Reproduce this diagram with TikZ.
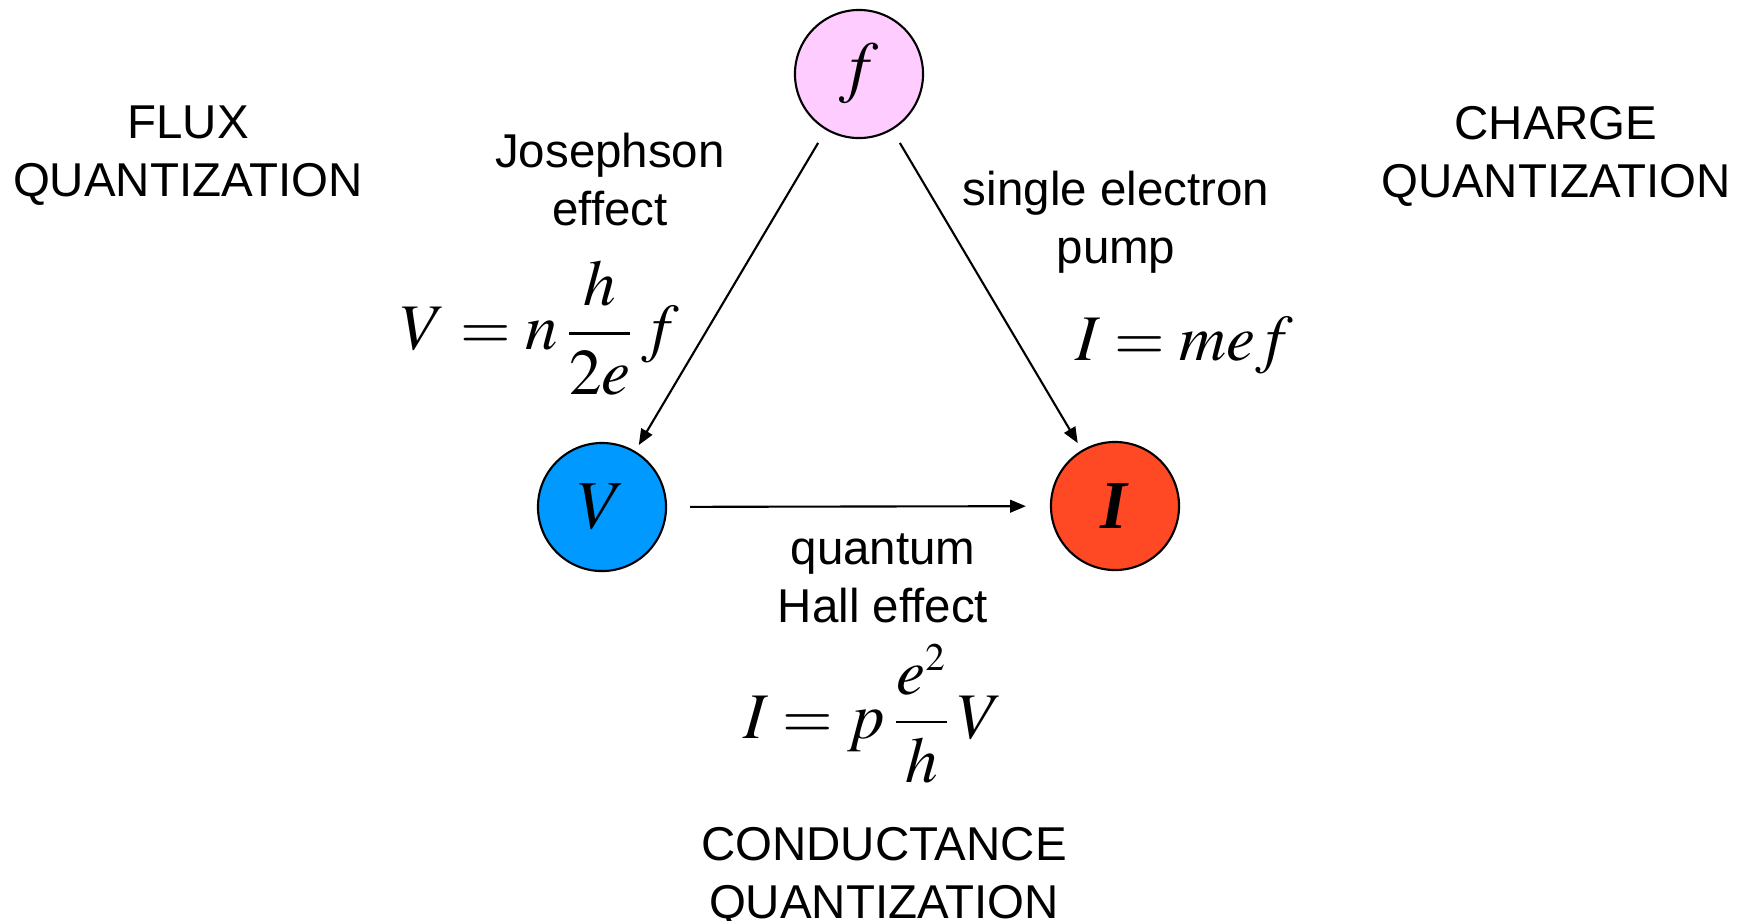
\documentclass[tikz,border=0pt]{standalone}
\usepackage{mathptmx}
\usepackage{fontspec}
\setmainfont{Liberation Serif}
\setsansfont{Liberation Sans}
\usetikzlibrary{arrows.meta}
\definecolor{fpink}{RGB}{255,204,255}
\definecolor{vblue}{RGB}{0,153,255}
\definecolor{ired}{RGB}{255,72,36}
\tikzset{
  qnode/.style={circle, draw=black, line width=0.6pt, minimum size=1.28cm, inner sep=0pt, font=\fontsize{19.5}{23}\selectfont},
  qlabel/.style={font=\sffamily\fontsize{13.5}{16.5}\selectfont, align=center, inner sep=0pt},
  qeqn/.style={font=\fontsize{18.5}{22}\selectfont, inner sep=0pt},
  conn/.style={line width=0.6pt, -{Triangle[length=4.5pt,width=3.6pt]}}
}

\begin{document}
\begin{tikzpicture}[x=0.01cm, y=-0.01cm]
        \useasboundingbox (0,0) rectangle (1754,920);

        % Los tres nodos del triangulo
        \node[qnode, fill=fpink] (freq) at (859,74) {$f$};
        \node[qnode, fill=vblue] (volt) at (602,507) {$V$};
        \node[qnode, fill=ired] (curr) at (1115,506) {\textbf{\textit{I}}};

        % --- CONEXIONES ---
        \draw[conn, shorten <=0.15cm, shorten >=0.07cm] (freq) -- (volt);
        \draw[conn, shorten <=0.15cm, shorten >=0.08cm] (freq) -- (curr);
        \draw[conn, shorten <=0.23cm, shorten >=0.24cm] (volt) -- (curr);

        % Etiquetas de los efectos
        \node[qlabel] (jos) at (610,180) {Josephson\\effect};
        \node[qlabel] (sep) at (1116,222) {single electron\\pump};
        \node[qlabel] (qhe) at (883,578) {quantum\\Hall effect};

        % Ecuaciones
        \node[qeqn] (eqjos) at (540,328) {$\displaystyle V = n\,\frac{h}{2e}\,f$};
        \node[qeqn, anchor=base] (eqsep) at (1184,360) {$I = mef$};
        \node[qeqn] (eqqhe) at (873,714) {$\displaystyle I = p\,\frac{e^{\scriptscriptstyle 2}}{h}\,V$};

        % Tipos de cuantizacion
        \node[qlabel] (flux) at (188,156) {FLUX\\QUANTIZATION};
        \node[qlabel] (chrg) at (1556,156) {CHARGE\\QUANTIZATION};
        \node[qlabel] (cond) at (884,877) {CONDUCTANCE\\QUANTIZATION};

\end{tikzpicture}
\end{document}
